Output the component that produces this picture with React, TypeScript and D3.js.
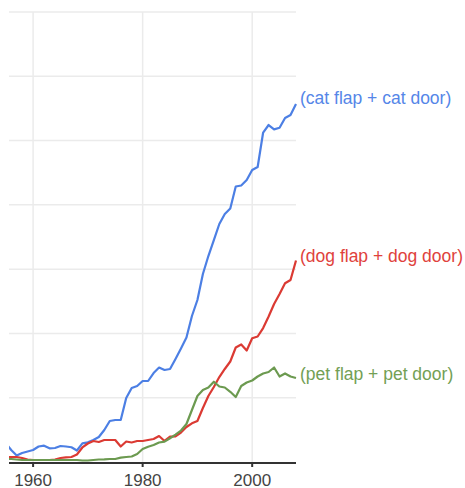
import React from 'react';
import * as d3 from 'd3';

const years = d3.range(1955, 2009);

// values in gridline units (one gridline step = 1)
const catDoor = [
  0.296, 0.187, 0.101, 0.140, 0.163, 0.187, 0.241, 0.254, 0.213, 0.218,
  0.249, 0.241, 0.229, 0.179, 0.291, 0.306, 0.342, 0.389, 0.498, 0.638,
  0.653, 0.653, 0.995, 1.151, 1.182, 1.260, 1.260, 1.384, 1.470, 1.431,
  1.447, 1.602, 1.765, 1.937, 2.271, 2.520, 2.924, 3.204, 3.453, 3.702,
  3.857, 3.943, 4.285, 4.301, 4.386, 4.542, 4.589, 5.125, 5.242, 5.175,
  5.200, 5.351, 5.397, 5.568,
];
const dogDoor = [
  0.078, 0.078, 0.078, 0.062, 0.039, 0.031, 0.031, 0.031, 0.031, 0.039,
  0.062, 0.073, 0.078, 0.117, 0.226, 0.288, 0.327, 0.311, 0.342, 0.342,
  0.342, 0.241, 0.319, 0.303, 0.327, 0.327, 0.342, 0.358, 0.404, 0.327,
  0.394, 0.397, 0.459, 0.544, 0.602, 0.638, 0.840, 1.027, 1.167, 1.322,
  1.447, 1.563, 1.781, 1.828, 1.734, 1.924, 1.952, 2.084, 2.263, 2.458,
  2.613, 2.780, 2.831, 3.134,
];
const petDoor = [
  0.047, 0.047, 0.039, 0.031, 0.031, 0.031, 0.031, 0.031, 0.031, 0.031,
  0.031, 0.031, 0.031, 0.031, 0.023, 0.023, 0.031, 0.039, 0.042, 0.047,
  0.047, 0.067, 0.078, 0.086, 0.124, 0.202, 0.238, 0.264, 0.303, 0.316,
  0.369, 0.425, 0.490, 0.591, 0.809, 1.027, 1.120, 1.159, 1.249, 1.174,
  1.159, 1.092, 1.011, 1.182, 1.237, 1.268, 1.330, 1.377, 1.400, 1.470,
  1.330, 1.377, 1.330, 1.307,
];

const seriesNames = ['(cat flap + cat door)', '(dog flap + dog door)', '(pet flap + pet door)'];
const lineColors = ['#4c7fe4', '#db3a33', '#6c9a50'];
const textColors = ['#5586e8', '#e0423c', '#73a055'];
const xTicks = [1960, 1980, 2000];
const yGrid = [1, 2, 3, 4, 5, 6, 7];

const App = () => {
  const width = 465;
  const height = 488;
  const left = 9, right = 296, top = 12, bottom = 462;

  const x = d3.scaleLinear().domain([1955.6, 2008]).range([left, right]);
  const y = d3.scaleLinear().domain([0, 7]).range([bottom, top]);

  const line = d3.line<number>()
    .x((d, i) => x(years[i]))
    .y(d => y(d));

  const all = [catDoor, dogDoor, petDoor];
  const labelY = [98, 256, 374];

  return (
    <svg width={width} height={height} style={{ position: 'absolute', left: 0, top: 0 }}
      fontFamily="'Liberation Sans', Arial, sans-serif">
      <defs>
        <clipPath id="plot">
          <rect x={left} y={0} width={right - left + 2} height={bottom} />
        </clipPath>
      </defs>
      {/* grid */}
      {yGrid.map(g => (
        <line key={g} x1={left} x2={right} y1={y(g)} y2={y(g)} stroke="#ebebeb" strokeWidth={1.5} />
      ))}
      {xTicks.map(t => (
        <line key={t} x1={x(t)} x2={x(t)} y1={top} y2={bottom} stroke="#ebebeb" strokeWidth={1.5} />
      ))}
      {/* lines */}
      <g clipPath="url(#plot)">
        {all.map((s, i) => (
          <path key={i} d={line(s) || ''} fill="none" stroke={lineColors[i]} strokeWidth={2.2}
            strokeLinejoin="round" />
        ))}
      </g>
      {/* axis */}
      <line x1={left} x2={right} y1={bottom + 1} y2={bottom + 1} stroke="#333" strokeWidth={2} />
      {xTicks.map(t => (
        <g key={t}>
          <line x1={x(t)} x2={x(t)} y1={bottom + 1} y2={bottom + 5} stroke="#333" strokeWidth={2} />
          <text x={x(t)} y={480} textAnchor="middle" dominantBaseline="central" fontSize={17} fill="#444">
            {t}
          </text>
        </g>
      ))}
      {/* labels */}
      {seriesNames.map((n, i) => (
        <text key={n} x={300} y={labelY[i]} dominantBaseline="central" fontSize={17.5} fill={textColors[i]}>
          {n}
        </text>
      ))}
    </svg>
  );
};

export default App;
